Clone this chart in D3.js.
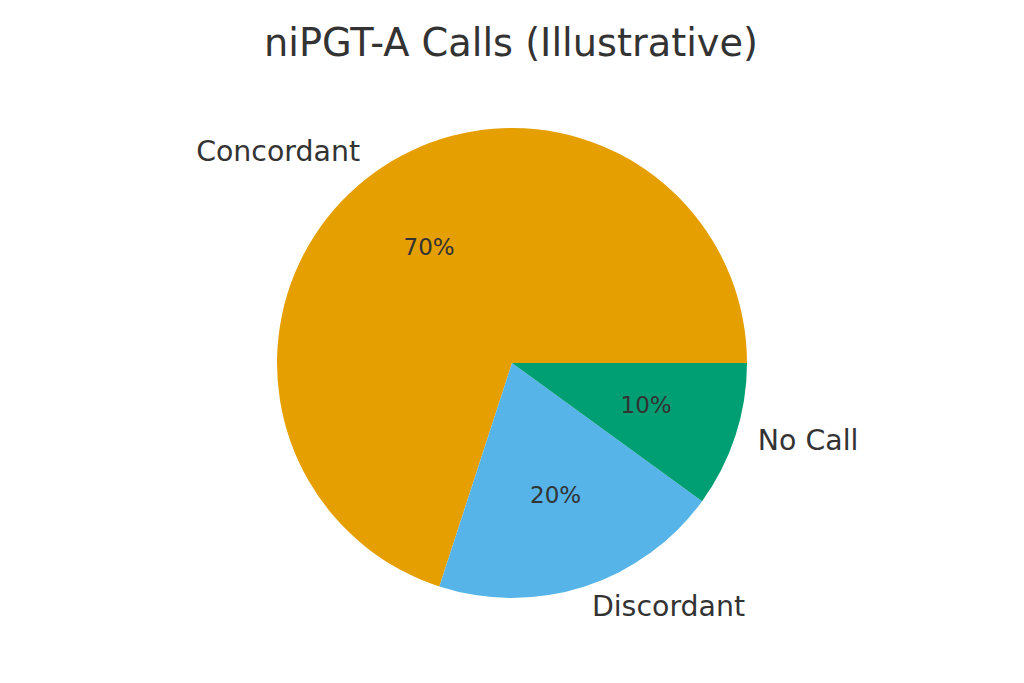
<!DOCTYPE html>
<html lang="en">

<head>
  <title>niPGT-A Calls (Illustrative)</title>
  <meta charset="UTF-8">
  <style>
    body {
      margin: 0;
      background: #fff;
    }
    text {
      font-family: "DejaVu Sans", sans-serif;
      fill: #333333;
    }
  </style>
</head>

<body>
  <div id="container"></div>
  <script src="https://cdn.jsdelivr.net/npm/d3@7"></script>
  <script>
    const categories = ['Concordant', 'Discordant', 'No Call'];
    const values = [70, 20, 10];
    const colors = ['#E69F00', '#56B4E9', '#009E73'];

    const size = { w: 1024, h: 683 };
    const center = { x: 512, y: 363 };
    const radius = 235;

    const svg = d3.select('#container')
      .append('svg')
      .attr('width', size.w)
      .attr('height', size.h);

    svg.append('text')
      .attr('x', size.w / 2 - 1)
      .attr('y', 42)
      .attr('text-anchor', 'middle')
      .attr('dominant-baseline', 'central')
      .style('font-size', '38.3px')
      .text('niPGT-A Calls (Illustrative)');

    const data = categories.map((c, i) => ({ name: c, value: values[i], color: colors[i] }));

    // matplotlib style: start at 3 o'clock, go counter-clockwise
    const pie = d3.pie()
      .sort(null)
      .value(d => d.value)
      .startAngle(Math.PI / 2)
      .endAngle(Math.PI / 2 - Math.PI * 2);

    const arcs = pie(data);
    const arc = d3.arc().innerRadius(0).outerRadius(radius);

    const g = svg.append('g')
      .attr('transform', `translate(${center.x},${center.y})`);

    g.selectAll('path')
      .data(arcs)
      .join('path')
      .attr('d', arc)
      .attr('fill', d => d.data.color);

    const total = d3.sum(values);

    function pos(d, k) {
      const a = (d.startAngle + d.endAngle) / 2;
      return [Math.sin(a) * radius * k, -Math.cos(a) * radius * k];
    }

    // category labels at 1.1 r
    g.selectAll('text.label')
      .data(arcs)
      .join('text')
      .attr('class', 'label')
      .attr('x', d => pos(d, 1.1)[0])
      .attr('y', d => pos(d, 1.1)[1] - 2)
      .attr('text-anchor', d => pos(d, 1.1)[0] < 0 ? 'end' : 'start')
      .attr('dominant-baseline', 'central')
      .style('font-size', '28.4px')
      .text(d => d.data.name);

    // percentages at 0.6 r
    g.selectAll('text.pct')
      .data(arcs)
      .join('text')
      .attr('class', 'pct')
      .attr('x', d => pos(d, 0.6)[0])
      .attr('y', d => pos(d, 0.6)[1] - 2)
      .attr('text-anchor', 'middle')
      .attr('dominant-baseline', 'central')
      .style('font-size', '23px')
      .text(d => Math.round(d.data.value / total * 100) + '%');
  </script>
</body>

</html>
